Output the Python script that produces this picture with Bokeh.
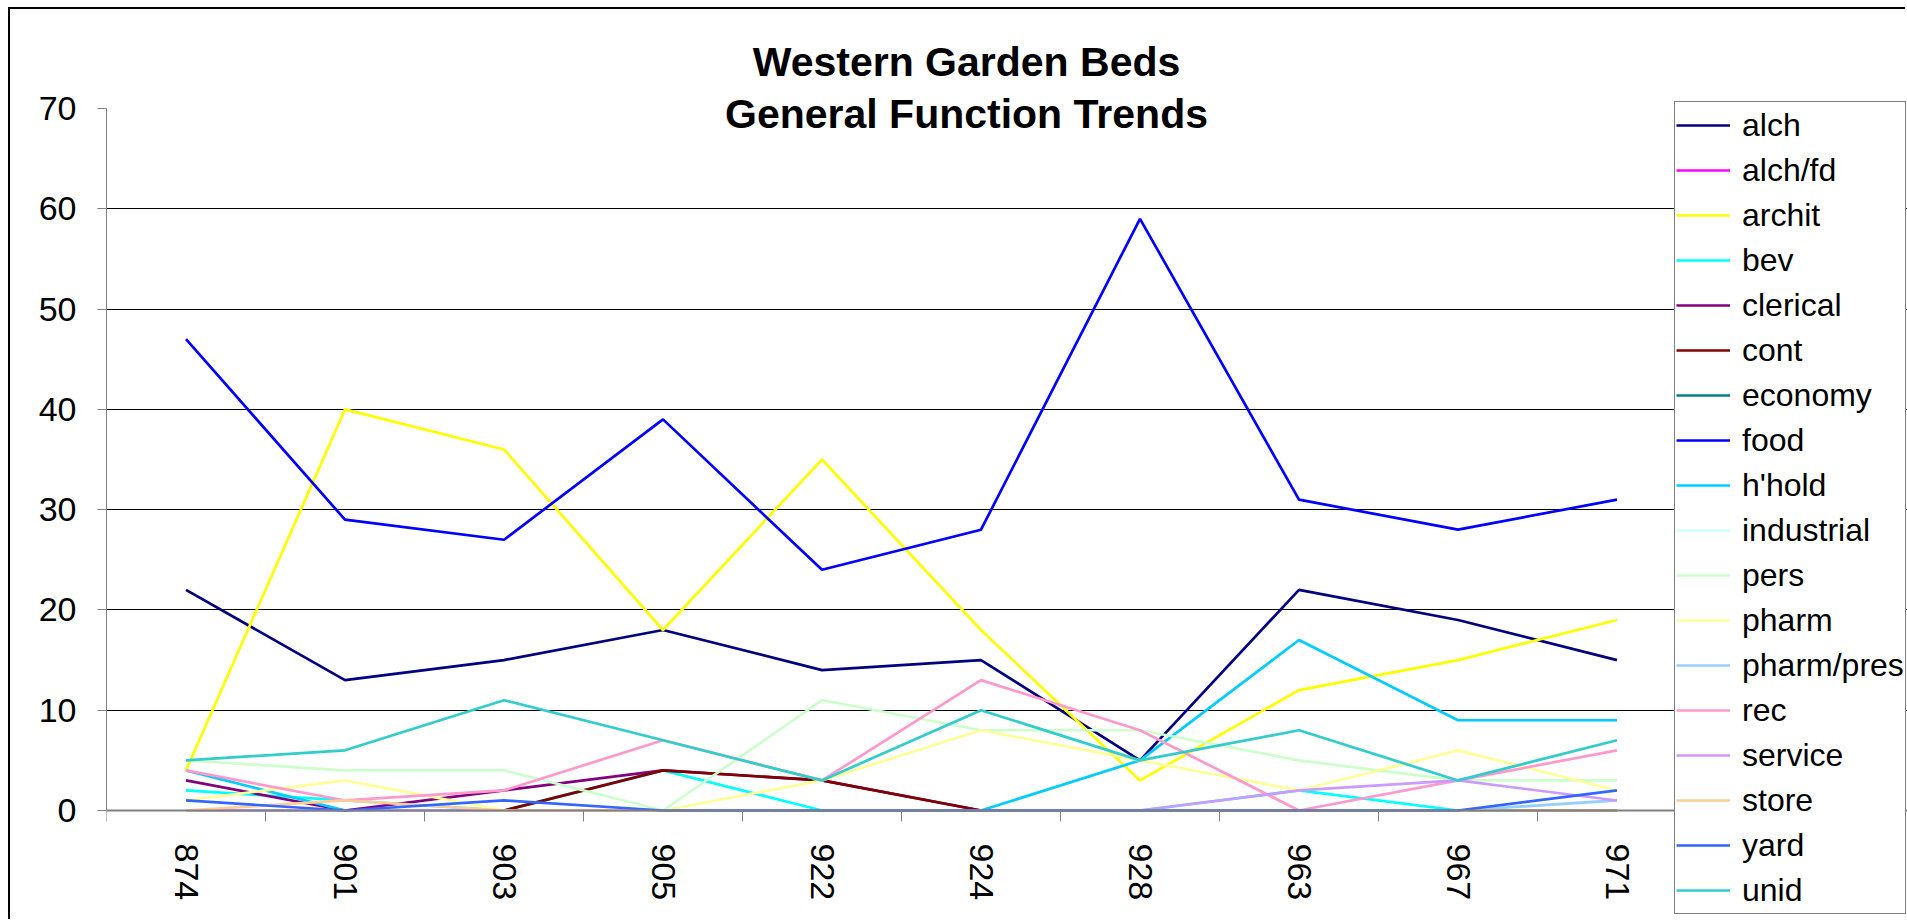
import math
from bokeh.plotting import figure
from bokeh.models import FixedTicker, Label, Range1d
from bokeh.embed import file_html
from bokeh.resources import INLINE

categories = ["874", "901", "903", "905", "922", "924", "928", "963", "967", "971"]

alch       = [22, 13, 15, 18, 14, 15, 5, 22, 19, 15]
alch_fd    = [0, 0, 0, 0, 0, 0, 0, 0, 0, 0]
archit     = [4, 40, 36, 18, 35, 18, 3, 12, 15, 19]
bev        = [2, 1, 0, 4, 0, 0, 0, 2, 0, 0]
clerical   = [3, 0, 2, 4, 3, 0, 0, 0, 0, 0]
cont       = [0, 0, 0, 4, 3, 0, 0, 0, 0, 0]
economy    = [0, 0, 0, 0, 0, 0, 0, 0, 0, 0]
food       = [47, 29, 27, 39, 24, 28, 59, 31, 28, 31]
hhold      = [4, 0, 0, 0, 0, 0, 5, 17, 9, 9]
industrial = [0, 0, 0, 0, 0, 0, 0, 0, 0, 1]
pers       = [5, 4, 4, 0, 11, 8, 8, 5, 3, 3]
pharm      = [1, 3, 0, 0, 3, 8, 5, 2, 6, 2]
pharm_pres = [0, 0, 0, 0, 0, 0, 0, 0, 0, 1]
rec        = [4, 1, 2, 7, 3, 13, 8, 0, 3, 6]
service    = [0, 0, 0, 0, 0, 0, 0, 2, 3, 1]
store      = [0, 1, 0, 0, 0, 0, 0, 0, 0, 0]
yard       = [1, 0, 1, 0, 0, 0, 0, 0, 0, 2]
unid       = [5, 6, 11, 7, 3, 10, 5, 8, 3, 7]

series_names = ["alch", "alch/fd", "archit", "bev", "clerical", "cont", "economy",
                "food", "h'hold", "industrial", "pers", "pharm", "pharm/pres",
                "rec", "service", "store", "yard", "unid"]
series_values = [alch, alch_fd, archit, bev, clerical, cont, economy, food, hhold,
                 industrial, pers, pharm, pharm_pres, rec, service, store, yard, unid]
series_colors = ["#000080", "#FF00FF", "#FFFF00", "#00FFFF", "#800080", "#800000",
                 "#008080", "#0000FF", "#00CCFF", "#CCFFFF", "#CCFFCC", "#FFFF99",
                 "#99CCFF", "#FF99CC", "#CC99FF", "#FFCC99", "#3366FF", "#33CCCC"]

title_lines = ["Western Garden Beds", "General Function Trends"]
y_ticks = [0, 10, 20, 30, 40, 50, 60, 70]
grid_ticks = [10, 20, 30, 40, 50, 60]
y_top = 70

FONT = "Liberation Sans"
OX, OY = 10, 9                # where the chart area starts on the page
W, H = 1907 - OX, 921 - OY
ML = 106 - OX                 # left panel (y axis) width
ZERO_FROM_TOP = 810 - OY      # canvas px from the top to the zero line
cat_px = 159.0                # px per category
unit_px = 702 / 70.0          # px per y unit
idx = list(range(len(categories)))
frame_w = W - ML
x_end = -0.5 + frame_w / cat_px
y_end = ZERO_FROM_TOP / unit_px
y_start = -(H - ZERO_FROM_TOP) / unit_px

p = figure(width=W, height=H, output_backend="svg", toolbar_location=None,
           x_range=Range1d(-0.5, x_end), y_range=Range1d(y_start, y_end),
           min_border_left=ML, min_border_right=0, min_border_top=0,
           min_border_bottom=0)
p.margin = (OY, 0, 0, OX)
p.styles = {"box-shadow": "-2px -2px 0 0 #000"}
p.outline_line_color = None
p.background_fill_color = "white"
p.border_fill_color = "white"

for name, vals, col in zip(series_names, series_values, series_colors):
    p.line(idx, vals, line_color=col, line_width=2.7, legend_label=name)

# x axis, drawn at the zero line
xa = p.xaxis[0]
xa.fixed_location = 0
xa.ticker = FixedTicker(ticks=idx, minor_ticks=[i - 0.5 for i in range(len(categories) + 1)])
xa.major_label_overrides = {i: c for i, c in enumerate(categories)}
xa.major_label_orientation = -math.pi / 2
xa.major_tick_out = 0
xa.major_tick_in = 0
xa.minor_tick_out = 11
xa.minor_tick_in = 0
xa.minor_tick_line_color = "#808080"
xa.axis_line_color = "#808080"
xa.axis_line_width = 2
xa.major_label_standoff = 22
xa.major_label_text_font = FONT
xa.major_label_text_font_size = "34px"
xa.major_label_text_color = "black"

# y axis
ya = p.yaxis[0]
ya.ticker = FixedTicker(ticks=y_ticks)
ya.bounds = (0, y_top)
ya.major_tick_out = 9
ya.major_tick_in = 0
ya.minor_tick_out = 0
ya.minor_tick_in = 0
ya.major_tick_line_color = "#808080"
ya.axis_line_color = "#808080"
ya.axis_line_width = 1
ya.major_label_standoff = 21
ya.major_label_text_font = FONT
ya.major_label_text_font_size = "34px"
ya.major_label_text_color = "black"

p.xgrid.visible = False
p.ygrid.ticker = FixedTicker(ticks=grid_ticks)
p.ygrid.grid_line_color = "black"
p.ygrid.grid_line_width = 1

# title (two lines), positioned through the plot's own scales
title_x = -0.5 + (966 - OX - ML) / cat_px
title_centers = [61 - OY, 113 - OY]
for txt, cy in zip(title_lines, title_centers):
    p.add_layout(Label(x=title_x, y=(ZERO_FROM_TOP - cy) / unit_px, text=txt,
                       text_align="center", text_baseline="middle",
                       text_font=FONT, text_font_size="41px",
                       text_font_style="bold", text_color="black"))

# legend (box top at page y=103, left at page x=1674; runs off the bottom)
lg = p.legend[0]
lg.label_text_font = FONT
lg.label_text_font_size = "32px"
lg.label_text_color = "black"
lg.label_height = 44
lg.glyph_height = 20
lg.glyph_width = 54
lg.label_standoff = 12
lg.spacing = 1
lg.padding = 1
lg.margin = 0
n_items = len(series_names)
legend_h = n_items * 44 + (n_items - 1) * 1 + 2 * 1
lg.location = (1674 - OX - ML, H - (103 - OY + legend_h))
lg.border_line_color = "black"
lg.border_line_width = 1
lg.background_fill_color = "white"
lg.background_fill_alpha = 1.0

open("out.html", "w").write(file_html(p, INLINE))
